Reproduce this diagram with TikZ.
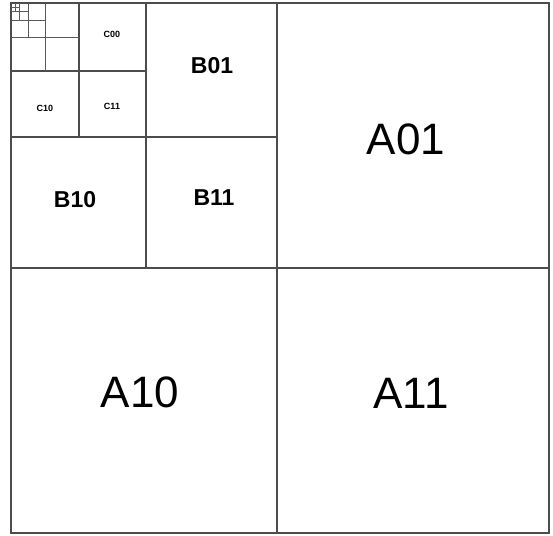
\documentclass[tikz,border=0pt]{standalone}
\usepackage{fontspec}
\setmainfont{Liberation Sans}
\begin{document}
\begin{tikzpicture}[x=1pt,y=-1pt,
  grid/.style={draw=black!70,line width=1.1pt},
  thin/.style={draw=black!65,line width=0.8pt},
  lbl/.style={inner sep=0pt,text=black}]
\useasboundingbox[fill=white] (0,0) rectangle (553,535);
% outer frame
\draw[grid] (11,3) rectangle (549,533);
% level A
\draw[grid] (277,3) -- (277,533);
\draw[grid] (11,268) -- (549,268);
% level B
\draw[grid] (146,3) -- (146,268);
\draw[grid] (11,137) -- (277,137);
% level C
\draw[grid] (79,3) -- (79,137);
\draw[grid] (11,71) -- (146,71);
% level D
\draw[thin] (45,3) -- (45,71);
\draw[thin] (11,37) -- (79,37);
% level E
\draw[thin] (28,3) -- (28,37);
\draw[thin] (11,20) -- (45,20);
% level F
\draw[thin] (19.5,3) -- (19.5,20);
\draw[thin] (11,11.5) -- (28,11.5);
% level G
\draw[thin] (15,3) -- (15,11.5);
\draw[thin] (11,7) -- (19.5,7);
% labels
\node[lbl,font=\fontsize{44}{44}\selectfont] (a01) at (406,139) {A01};
\node[lbl,font=\fontsize{44}{44}\selectfont] (a10) at (140,392) {A10};
\node[lbl,font=\fontsize{44}{44}\selectfont] (a11) at (411,393) {A11};
\node[lbl,font=\fontsize{23}{23}\selectfont\bfseries] (b01) at (212,66) {B01};
\node[lbl,font=\fontsize{23}{23}\selectfont\bfseries] (b10) at (75,200) {B10};
\node[lbl,font=\fontsize{23}{23}\selectfont\bfseries] (b11) at (214,198) {B11};
\node[lbl,font=\fontsize{9}{9}\selectfont\bfseries] (c00) at (112,34) {C00};
\node[lbl,font=\fontsize{9}{9}\selectfont\bfseries] (c10) at (45,108) {C10};
\node[lbl,font=\fontsize{9}{9}\selectfont\bfseries] (c11) at (112,106) {C11};
\end{tikzpicture}
\end{document}
